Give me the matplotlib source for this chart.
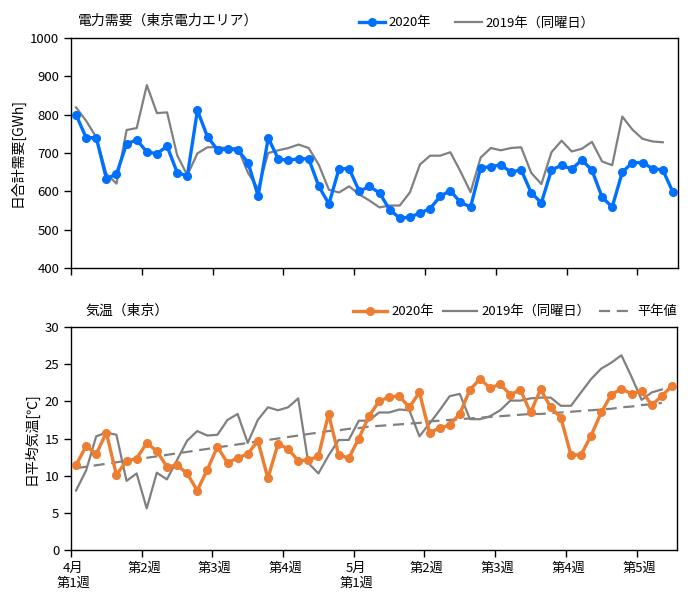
import matplotlib
matplotlib.use("Agg")
import matplotlib.pyplot as plt
import matplotlib.transforms as mtransforms
import numpy as np

plt.rcParams['font.family'] = ['Noto Sans CJK JP', 'DejaVu Sans']

# daily demand, Tokyo area [GWh]
demand_2020 = [800, 740, 740, 633, 645, 724, 734, 703, 698, 718,
               649, 640, 811, 742, 708, 710, 708, 675, 588, 739,
               684, 681, 685, 685, 613, 567, 659, 659, 600, 613,
               596, 552, 530, 533, 543, 555, 587, 602, 571, 559,
               662, 664, 669, 650, 656, 596, 570, 656, 668, 658,
               682, 655, 585, 559, 650, 675, 675, 659, 656, 598]
demand_2019 = [819, 784, 741, 646, 620, 760, 765, 877, 804, 806,
               694, 642, 699, 715, 715, 713, 713, 648, 607, 700,
               707, 713, 722, 713, 669, 604, 597, 613, 592, 576,
               558, 563, 563, 597, 670, 693, 693, 702, 652, 598,
               688, 713, 707, 713, 715, 648, 619, 702, 732, 704,
               711, 729, 678, 668, 795, 761, 737, 730, 728]

# daily mean temperature, Tokyo [deg C]
temp_2020 = [11.4, 14.0, 12.9, 15.8, 10.1, 12.0, 12.3, 14.4, 13.3, 11.2,
             11.4, 10.3, 8.0, 10.8, 13.9, 11.7, 12.4, 12.9, 14.7, 9.65,
             14.3, 13.6, 12.0, 12.1, 12.6, 18.3, 12.8, 12.35, 15.0, 18.0,
             20.0, 20.6, 20.7, 19.2, 21.2, 15.8, 16.4, 16.8, 18.35, 21.55,
             23.0, 21.8, 22.3, 20.9, 21.55, 18.5, 21.6, 19.2, 17.8, 12.8,
             12.8, 15.4, 18.5, 20.9, 21.7, 21.0, 21.4, 19.5, 20.7, 22.1]
temp_2019 = [8.0, 10.7, 15.3, 15.8, 15.5, 9.3, 10.3, 5.6, 10.4, 9.5,
             12.1, 14.7, 16.0, 15.4, 15.5, 17.5, 18.3, 14.4, 17.5, 19.2,
             18.8, 19.2, 20.4, 11.7, 10.3, 12.7, 14.8, 14.8, 17.4, 17.4,
             18.5, 18.5, 18.9, 18.8, 15.3, 17.0, 18.8, 20.7, 21.0, 17.6,
             17.6, 18.0, 18.8, 20.1, 20.1, 20.4, 20.5, 20.5, 19.4, 19.4,
             21.2, 23.0, 24.4, 25.2, 26.2, 23.3, 20.2, 21.2, 21.6]
temp_normal = [11.0, 11.2, 11.4, 11.6, 11.8, 12.0, 12.2, 12.4, 12.6, 12.8,
               13.0, 13.2, 13.4, 13.6, 13.8, 14.0, 14.2, 14.4, 14.6, 14.8,
               15.0, 15.2, 15.4, 15.6, 15.8, 16.0, 16.1, 16.3, 16.4, 16.6,
               16.7, 16.8, 16.9, 17.0, 17.1, 17.3, 17.4, 17.5, 17.6, 17.7,
               17.8, 17.9, 18.0, 18.1, 18.2, 18.3, 18.3, 18.4, 18.5, 18.6,
               18.7, 18.8, 18.9, 19.0, 19.2, 19.3, 19.5, 19.6, 19.8]

week_ticks = [0, 7, 14, 21, 28, 35, 42, 49, 56]
week_labels = ["4月\n第1週", "第2週", "第3週", "第4週", "5月\n第1週",
               "第2週", "第3週", "第4週", "第5週"]

blue = "#0070FF"
orange = "#ED7D31"
grey = "#808080"
tick_fs = 9.5

fig = plt.figure(figsize=(6.91, 6.04), dpi=100)
ax1 = fig.add_axes([0.1027, 0.5563, 0.8784, 0.3808])
ax2 = fig.add_axes([0.1027, 0.0894, 0.8770, 0.3692])

# demand panel
x20 = np.arange(len(demand_2020)) + 0.5
x19 = np.arange(len(demand_2019)) + 0.5
ax1.plot(x20, demand_2020, color=blue, lw=2.4, marker="o", ms=5.5, label="2020年", zorder=3)
ax1.plot(x19, demand_2019, color=grey, lw=1.6, label="2019年（同曜日）", zorder=2)
ax1.set_xlim(0, 60)
ax1.set_ylim(400, 1000)
ax1.set_yticks(range(400, 1001, 100))
ax1.set_xticks(week_ticks)
ax1.set_xticklabels([])
ax1.set_ylabel("日合計需要[GWh]", fontsize=10)
fig.text(0.113, 0.965, "電力需要（東京電力エリア）", fontsize=10, va="center")
ax1.legend(loc="center left", bbox_to_anchor=(0.519, 0.962), bbox_transform=fig.transFigure,
           ncol=2, frameon=False, fontsize=9.5, handlelength=2.0, handletextpad=0.3,
           columnspacing=1.8, borderpad=0, borderaxespad=0)

# temperature panel
t20 = np.arange(len(temp_2020)) + 0.5
t19 = np.arange(len(temp_2019)) + 0.5
tn = np.arange(len(temp_normal)) + 0.5
ax2.plot(t20, temp_2020, color=orange, lw=2.4, marker="o", ms=5.5, label="2020年", zorder=3)
ax2.plot(t19, temp_2019, color=grey, lw=1.6, label="2019年（同曜日）", zorder=2)
ax2.plot(tn, temp_normal, color=grey, lw=1.6, ls=(0, (5, 3)), label="平年値", zorder=1)
ax2.set_xlim(0, 60)
ax2.set_ylim(0, 30)
ax2.set_yticks(range(0, 31, 5))
ax2.set_xticks(week_ticks)
ax2.set_xticklabels(week_labels, fontsize=tick_fs)
ax2.set_ylabel("日平均気温[℃]", fontsize=10)
fig.text(0.123, 0.486, "気温（東京）", fontsize=10, va="center")
ax2.legend(loc="center left", bbox_to_anchor=(0.511, 0.484), bbox_transform=fig.transFigure,
           ncol=3, frameon=False, fontsize=9.5, handlelength=2.6, handletextpad=0.3,
           columnspacing=0.7, borderpad=0, borderaxespad=0)

for ax in (ax1, ax2):
    ax.tick_params(axis="both", direction="out", length=5, width=1, labelsize=tick_fs, color="black")
    for sp in ax.spines.values():
        sp.set_color("black")
        sp.set_linewidth(1.0)

# week labels sit a little right of their tick marks
shift = mtransforms.ScaledTranslation(2.5 / 100, 0, fig.dpi_scale_trans)
for lbl in ax2.get_xticklabels():
    lbl.set_transform(lbl.get_transform() + shift)

fig.savefig("out.png", dpi=100)
